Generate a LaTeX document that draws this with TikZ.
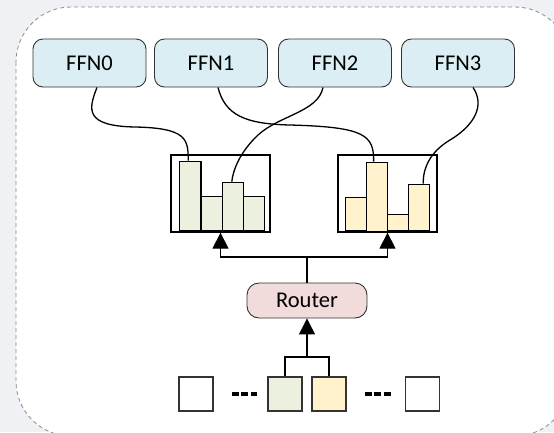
\documentclass[tikz,border=0pt]{standalone}
\usepackage{fontspec}
\setmainfont{Carlito}
\usetikzlibrary{arrows.meta}
\definecolor{bgcol}{HTML}{EFF1F4}
\definecolor{ffnfill}{HTML}{DAEEF3}
\definecolor{routerfill}{HTML}{F2DCDB}
\definecolor{greenfill}{HTML}{EBF1DE}
\definecolor{yellowfill}{HTML}{FFF2CC}
\definecolor{edgecol}{HTML}{333333}
\definecolor{framecol}{HTML}{8C8C8C}
\tikzset{
  ffnbox/.style={draw=edgecol, line width=0.9pt, fill=ffnfill, rounded corners=10pt,
    minimum width=113pt, minimum height=48pt, inner sep=0pt, font=\fontsize{22.5}{25}\selectfont},
  routerbox/.style={draw=edgecol, line width=0.9pt, fill=routerfill, rounded corners=12pt,
    minimum width=120pt, minimum height=35pt, inner sep=0pt, font=\fontsize{22.5}{25}\selectfont},
  histframe/.style={draw=black, line width=1.3pt, minimum width=99pt, minimum height=77pt, inner sep=0pt},
  bar/.style={draw=black, line width=1.3pt, anchor=south west, inner sep=0pt, minimum width=#1},
  token/.style={draw=edgecol, line width=1.1pt, minimum width=34pt, minimum height=34pt, inner sep=0pt},
  wire/.style={draw=black, line width=1.3pt},
  uparrow/.style={wire, -{Triangle[width=16pt,length=16pt]}},
  ellipsisdash/.style={draw=black, line width=3.2pt, dash pattern=on 7pt off 2.5pt},
}
\begin{document}
\begin{tikzpicture}[x=1pt,y=-1pt]
  % canvas and dashed container
  \useasboundingbox (0,0) rectangle (554,432);
  \fill[bgcol] (0,0) rectangle (554,432);
  \begin{scope}
    \clip (0,0) rectangle (554,432);
    \draw[framecol, line width=0.8pt, dash pattern=on 4pt off 3pt, fill=white, rounded corners=55pt]
      (16,7) rectangle (570,436);
  \end{scope}

  % experts
  \node[ffnbox] (f0) at (89.5,63) {FFN0};
  \node[ffnbox] (f1) at (211,63)  {FFN1};
  \node[ffnbox] (f2) at (335,63)  {FFN2};
  \node[ffnbox] (f3) at (458,63)  {FFN3};

  % routing histograms
  \node[histframe] (hl) at (220.5,193.5) {};
  \node[histframe] (hr) at (387.5,193.5) {};

  \node[bar=21.25pt, fill=greenfill, minimum height=69pt] (l1) at (179,231) {};
  \node[bar=21.25pt, fill=greenfill, minimum height=34pt] (l2) at (200.25,231) {};
  \node[bar=21.25pt, fill=greenfill, minimum height=48pt] (l3) at (221.5,231) {};
  \node[bar=21.25pt, fill=greenfill, minimum height=34pt] (l4) at (242.75,231) {};

  \node[bar=21pt, fill=yellowfill, minimum height=33pt] (r1) at (345,231) {};
  \node[bar=21pt, fill=yellowfill, minimum height=69pt] (r2) at (366,232) {};
  \node[bar=21pt, fill=yellowfill, minimum height=16pt] (r3) at (387,231) {};
  \node[bar=21pt, fill=yellowfill, minimum height=46pt] (r4) at (408,231) {};

  % router and tokens
  \node[routerbox] (router) at (307,300.5) {Router};

  \node[token, fill=white]      (t0) at (196,394)   {};
  \node[token, fill=greenfill]  (tg) at (285,394)   {};
  \node[token, fill=yellowfill] (ty) at (329,394)   {};
  \node[token, fill=white]      (t3) at (422.5,394) {};

  \draw[ellipsisdash] ([xshift=18pt]t0.east) -- ([xshift=-10pt]tg.west);
  \draw[ellipsisdash] ([xshift=18pt]ty.east) -- ([xshift=-14pt]t3.west);

  % tokens into the router
  \coordinate (join) at (307,357);
  \draw[wire] (tg.north) |- (join) -| (ty.north);
  \draw[uparrow] (join) -- (router.south);

  % router out to both histograms
  \coordinate (split) at (307,257);
  \draw[wire] (router.north) -- (split);
  \draw[uparrow] (split) -| (hl.south);
  \draw[uparrow] (split) -| (hr.south);

  % expert assignments
  \draw[wire] ([xshift=7.5pt]f0.south) .. controls (88,110) and (85,126) .. (135,127)
    .. controls (188,128) and (188,140) .. ([xshift=-2pt]l1.north);
  \draw[wire] ([xshift=7pt]f1.south) .. controls (225,115) and (245,124) .. (290,125)
    .. controls (365,127) and (374,135) .. ([xshift=-3.5pt]r2.north);
  \draw[wire] ([xshift=-12pt]f2.south) .. controls (318,112) and (280,115) .. (258,135)
    .. controls (240,152) and (233,170) .. ([xshift=-1pt]l3.north);
  \draw[wire] ([xshift=15pt]f3.south) .. controls (485,105) and (475,125) .. (450,140)
    .. controls (430,152) and (423,168) .. ([xshift=4pt]r4.north);
\end{tikzpicture}
\end{document}
